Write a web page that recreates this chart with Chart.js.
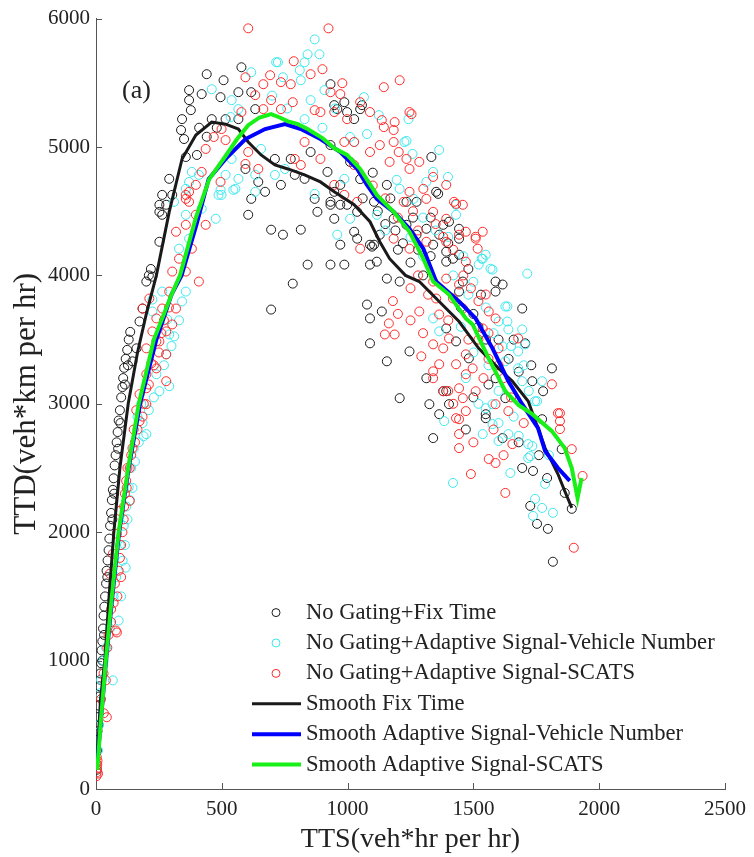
<!DOCTYPE html>
<html lang="en">
<head>
  <meta charset="UTF-8">
  <title>TTD vs TTS</title>
  <script src="https://cdn.jsdelivr.net/npm/chart.js"></script>
  <style>
    html, body { margin: 0; padding: 0; background: #fff; }
    #wrap { width: 754px; height: 857px; }
  </style>
</head>
<body>
  <div id="wrap"><canvas id="chart" width="754" height="857"></canvas></div>

  <script>
    // axis ranges / ticks
    const xTicks = [0, 500, 1000, 1500, 2000, 2500];
    const yTicks = [0, 1000, 2000, 3000, 4000, 5000, 6000];

    const seriesNames = [
      'No Gating+Fix Time',
      'No Gating+Adaptive Signal-Vehicle Number',
      'No Gating+Adaptive Signal-SCATS',
      'Smooth Fix Time',
      'Smooth Adaptive Signal-Vehicle Number',
      'Smooth Adaptive Signal-SCATS'
    ];

    // scatter: no gating + fix time (black circles), [TTS, TTD]
    const fixTimePts = [
      [3,150],[4,300],[6,450],[8,560],[10,650],[12,720],[14,800],[17,900],[20,980],[22,1080],[25,1150],[28,1250],
      [30,1350],[33,1420],[36,1500],[40,1600],[42,1700],[46,1780],[50,1860],[53,1950],[56,2050],[60,2150],[63,2250],
      [67,2330],[70,2420],[74,2520],[78,2600],[82,2700],[86,2780],[90,2870],[95,2950],[100,3050],[105,3130],[108,3200],
      [112,3280],[118,3350],[124,3420],[130,3500],[136,3560],[145,3331],[161,3432],[173,3641],[185,3742],[200,3952],
      [210,4000],[218,4050],[224,3990],[252,4262],[252,4495],[263,4472],[279,4550],[252,4550],[263,4627],[291,4752],[303,4627],
      [10,500],[18,850],[25,1000],[32,1200],[45,1650],[65,2100],[72,2300],[88,2650],[97,2850],[115,3150],[127,3300],
      [342,5217],[338,5132],[350,5062],[357,4922],[401,4938],[377,5287],[370,5365],[420,5412],[370,5443],[440,5567],
      [507,5520],[578,5621],[495,5388],[566,5427],[617,5427],[633,5295],[566,5217],[460,5217],[515,5217],[410,5150],
      [440,5080],[480,5150],
      [594,4829],[645,4728],[672,4651],[617,4596],[711,4907],[735,4705],[774,4907],[790,4783],[829,4752],[853,4961],
      [869,4596],[920,4806],[947,4651],[971,4705],[998,4550],[947,5326],[987,5349],[1050,5295],[1026,5217],[605,4472],
      [696,4356],[743,4317],[814,4356],[782,3936],[841,4084],[932,4084],[987,4084],[696,3734],[1077,3773],[1089,3665],
      [1089,3471],[880,4495],[932,4550],[1038,4495],[932,5015],[1010,4884],[932,5489],[1057,5326],[1038,4286],[1097,4224],
      [1026,4340],
      [1333,4922],[971,4239],[1089,4239],[1128,4317],[1183,4441],[1234,4573],[1274,4573],[1352,4651],[1234,4394],[1313,4363],
      [1380,4394],[1443,4363],[1364,4317],[1443,4286],[947,4441],[932,4573],[971,4550],[959,5295],[998,5272],[1360,4635],
      [1156,4705],[1105,4573],[1116,4107],[1156,3975],[1207,3952],[1616,3929],[1588,3874],[1458,3952],[1443,3874],[1392,4107],
      [1419,4130],[1403,4418],[1274,4317],[1105,4239],[1089,4084],
      [1136,3719],[1156,3331],[1207,3044],[1246,3408],[1325,2997],[1340,2733],[1313,3199],[1380,3098],[1364,2919],[1403,2997],
      [1694,3742],[1706,3471],[1812,3276],[1734,3176],[1777,3098],[1549,2919],[1616,2733],[1694,2500],[1737,2477],[1793,2422],
      [1726,2205],[1753,2065],[1796,2026],[1816,1770],[1891,2182],[1863,2306],[1773,2880],[1851,2647],
      [1340,4239],[1392,4185],[1443,4161],[1588,3952],[1392,3587],[1431,3486],[1482,3354],[1392,3098],[1549,2888],[1588,3199],
      [1627,3044],[1500,3700],[1550,3500],[1250,4100],[1200,4200],[1300,4000],[1450,3750],[1520,3600],[1640,3350],[1680,3250],
      [1560,3150],[1060,4600],[1120,4500],[1150,4400],[1190,4350],[1220,4250],[1280,4200],[1330,4150],[1170,4600],[1050,4750],
      [1100,4800],[1260,4450],[1330,4450],[1400,4250],[1480,4050],[1530,3850],[1600,3500],[1660,3500],[1730,3300],[1500,3050],
      [1470,2800],[1680,2700],[1760,2600]
    ];

    // scatter: no gating + adaptive signal, vehicle number (cyan circles)
    const vehNumPts = [
      [8,300],[12,500],[16,745],[20,850],[30,1000],[40,1100],[55,1250],[67,846],[90,1312],[106,1778],[118,1724],[70,1500],
      [80,1650],[95,1900],[110,2050],[120,2200],[130,2350],[145,2345],[140,2500],[150,2650],[189,2748],[200,2764],[165,2900],
      [180,3000],[252,3098],[291,3137],[240,3230],[279,3385],[291,3540],[311,3525],[283,3657],[224,3719],[263,3874],
      [342,3797],[357,3874],[330,4208],[370,4286],[420,4519],[476,4441],[499,4627],[546,4666],[224,3812],[310,4573],
      [357,4674],[357,4472],[409,4783],[495,4666],[370,4728],[381,4806],
      [100,1500],[115,1900],[125,2100],[135,2250],[155,2550],[170,2700],[185,2850],[210,2950],[230,3050],[270,3300],
      [300,3450],[330,3650],
      [869,5838],[841,5722],[888,5722],[723,5660],[810,5598],[617,5582],[743,5543],[814,5520],[908,5443],[853,5365],
      [539,5365],[566,5295],[535,5233],[829,5217],[1010,5078],[1026,5039],[539,4907],[656,4985],[515,4783],[566,4752],
      [487,4627],[554,4674],[633,4651],[869,4635],[987,4752],[716,5660],[829,5660],[460,5450],[633,4783],[711,4783],
      [751,4829],[700,5400],[760,5300],[900,5150],[950,5300],
      [1065,5388],[1124,5248],[1242,5217],[1077,5101],[1226,5039],[1364,4977],[1258,4946],[1340,4806],[1399,4767],[1195,4744],
      [1207,4674],[1313,4728],[1262,4596],[1431,4472],[1537,4130],[959,4317],[1010,4441],[1116,4472],[1234,5047],[1714,4014],
      [1576,4045],[1431,4550],
      [1635,3758],[1635,3641],[1694,3579],[1639,3579],[1678,3408],[1627,3331],[1678,3276],[1694,3176],[1773,3176],[1753,3020],
      [1384,2865],[1419,2384],[1647,2461],[1549,2966],[1576,2842],[1639,2764],[1718,2686],[1726,2593],[1745,2259],[1773,2189],
      [1737,2127],[1816,2151],[1600,2710],[1537,2764],[1785,2376],[1718,2578],[1734,2671],
      [1533,4130],[1568,4052],[1627,3758],[1600,3641],[1616,3447],[1706,3463],[1576,2997],[1745,3020],[1340,3665],[1364,3564],
      [1549,4161],[1521,4084],[1150,4350],[1250,4300],[1300,4150],[1420,4000],[1480,3850],[1450,3600],[1500,3400],[1470,3200],
      [1560,3300],[1520,3000],[1600,3100],
      [1300,4450],[1350,4350],[1400,4300],[1460,4150],[1500,3950],[1550,3750],[1580,3550],[1650,3450],[1700,3300],[1720,3100],
      [1660,2900],[1600,2850],[1680,2750],[1800,2600]
    ];

    // scatter: no gating + adaptive signal, SCATS (red circles)
    const scatsPts = [
      [2,100],[3,130],[4,160],[5,190],[6,220],[3,250],[8,120],[2,200],
      [31,590],[39,846],[43,559],[79,1234],[83,1219],[55,1677],[67,1832],[83,1988],[94,2166],[134,2244],[122,2345],[134,2500],
      [145,2655],[173,2865],[200,2997],[173,3075],[200,3230],[220,3315],[200,3432],[240,3486],[20,700],[30,900],[45,1100],
      [60,1300],[70,1450],[75,1600],[100,1900],[110,2100],[115,2300],[125,2500],[150,2800],[160,2950],[185,3742],[200,3121],
      [240,3276],[279,3176],[279,3385],[252,3486],[224,3564],[279,3564],[240,3665],[263,3742],[212,3820],[303,3618],[318,3742],
      [291,3874],[303,4030],[357,4030],[409,3952],[330,4130],[381,4208],[318,4340],[357,4394],[436,4394],[397,4472],[370,4573],
      [357,4627],
      [90,1700],[95,1800],[105,2000],[112,2200],[120,2400],[140,2600],[155,2700],[165,2800],[185,2900],[190,3000],[210,3150],
      [230,3300],[250,3400],[260,3550],[270,3650],[290,3750],[50,1200],[60,1400],[85,1500],[100,1650],
      [605,5924],[924,5924],[786,5668],[853,5567],[900,5606],[692,5559],[594,5543],[735,5505],[665,5489],[774,5489],[979,5497],
      [932,5427],[971,5412],[696,5365],[633,5404],[782,5349],[869,5287],[892,5272],[947,5272],[998,5217],[1050,5349],[665,5295],
      [735,5295],[578,5272],[499,5140],[468,5078],[515,5054],[605,4961],[645,4829],[594,4868],[436,4985],[420,4806],[495,4728],
      [397,4705],[357,4596],[370,4651],[829,5039],[790,4907],[814,4860],[892,4907],[987,5039],[1026,4860],[947,4705],[987,4627],
      [1038,4573],
      [1144,5466],[1207,5520],[1254,5256],[1187,5194],[1183,5132],[1136,5209],[1089,5272],[1144,5155],[1026,5039],[1089,4961],
      [1128,5015],[1167,4884],[1203,4961],[1234,4907],[1285,4884],[1183,5039],[1246,4829],[1340,4767],[1392,4705],[1301,4674],
      [1246,4651],[1223,4573],[1431,4557],[1458,4550],[1313,4596],[1340,4495],[1392,4441],[1470,4340],[1537,4340],[1509,4286],
      [1443,4317],[1392,4262],[1313,4262],[1246,4208],[1183,4286],[1050,4208],[1246,5272],[1517,4208],[1423,4573],
      [1164,3626],[1148,3540],[1187,3540],[1293,3370],[1340,3253],[1380,3098],[1443,2880],[1443,2764],[1443,2655],[1561,2570],
      [1588,2539],[1490,2453],[1627,2306],[1844,2927],[1844,2865],[1844,2803],[1891,2647],[1934,2438],[1899,1879],[1655,2686],
      [1639,2943],[1537,3587],[1470,3230],[1509,3098],[1588,2997],[1285,3719],[1340,3463],[1403,3509],[1431,3308],[1497,3276],
      [1470,3385],
      [1509,4301],[1470,4107],[1549,3851],[1561,3719],[1588,3665],[1600,3432],[1678,3509],[1812,3152],[1836,2927],[1443,3121],
      [1458,3044],[1470,2943],[1431,2888],[1364,3308],[1340,3199],[1380,3432],[1419,3820],[1458,3742],[1392,3975],[1443,3929],
      [1340,3952],[1352,3820],[1364,3696],[1280,4000],[1320,3850],[1250,3900],[1400,3650],[1480,3500],[1560,3350],[1540,3200],
      [1100,4700],[1150,4600],[1200,4450],[1260,4500],[1280,4350],[1350,4400],[1380,4300],[1420,4200],[1460,4000],[1490,3900],
      [1520,3800],[1520,3500],[1560,3550],[1600,3300],[1620,3200],[1650,3050],[1700,2850],[1580,2800],[1500,2700],[1620,2600],
      [1400,3100],[1420,3000],[1300,3550],[1250,3650],[1180,3800],[1200,3700]
    ];

    // smoothed curves
    const smoothFix = [
      [5,250],[18,700],[35,1000],[52,1500],[71,2000],[95,2500],[128,3000],[165,3400],[200,3700],[240,4000],[291,4495],
      [342,4907],[397,5093],[460,5194],[515,5178],[566,5140],[605,5039],[656,4938],[711,4860],[763,4829],[829,4783],
      [892,4728],[947,4651],[1026,4550],[1089,4418],[1128,4262],[1167,4130],[1230,4000],[1285,3952],[1364,3797],[1443,3641],
      [1521,3432],[1600,3276],[1655,3176],[1718,3020],[1785,2655],[1836,2453],[1863,2321],[1891,2189]
    ];
    const smoothVehNum = [
      [5,200],[20,550],[40,1000],[65,1500],[92,2000],[130,2500],[175,3000],[240,3500],[300,3850],[340,4000],[400,4400],
      [448,4752],[515,4907],[594,5062],[672,5140],[751,5178],[814,5140],[892,5062],[971,4961],[1038,4829],[1077,4705],
      [1116,4596],[1183,4495],[1246,4363],[1301,4208],[1352,3952],[1443,3797],[1509,3665],[1576,3432],[1639,3176],
      [1694,2997],[1757,2811],[1785,2632],[1836,2500],[1883,2399]
    ];
    const smoothScats = [
      [5,150],[20,550],[39,1000],[63,1500],[90,2000],[128,2500],[170,3000],[230,3500],[300,3850],[334,4000],[397,4450],
      [450,4750],[515,4930],[560,5060],[605,5170],[650,5230],[696,5256],[730,5230],[763,5200],[800,5180],[841,5140],
      [900,5070],[947,4990],[998,4938],[1050,4829],[1116,4627],[1183,4495],[1246,4340],[1301,4130],[1340,3952],[1403,3851],
      [1470,3665],[1497,3618],[1530,3480],[1561,3354],[1627,3098],[1680,2990],[1734,2919],[1812,2787],[1863,2655],
      [1891,2500],[1914,2267],[1930,2422]
    ];

    const toXY = arr => arr.map(p => ({ x: p[0], y: p[1] }));
    const serif = '"Liberation Serif", "Times New Roman", serif';

    const colBlack = '#1a1a1a';
    const colCyan = '#3ee8ee';
    const colRed = '#ff2a2a';
    const colBlue = '#0000ff';
    const colGreen = '#18f018';

    // inward tick marks, the "(a)" tag and the legend box
    const decorPlugin = {
      id: 'decor',
      afterDraw(chart) {
        const ctx = chart.ctx;
        const xs = chart.scales.x, ys = chart.scales.y;
        const area = chart.chartArea;
        ctx.save();
        ctx.strokeStyle = '#555';
        ctx.lineWidth = 1;
        xTicks.forEach(v => {
          const px = Math.round(xs.getPixelForValue(v)) + 0.5;
          ctx.beginPath(); ctx.moveTo(px, area.bottom); ctx.lineTo(px, area.bottom - 6); ctx.stroke();
        });
        yTicks.forEach(v => {
          const py = Math.round(ys.getPixelForValue(v)) + 0.5;
          ctx.beginPath(); ctx.moveTo(area.left, py); ctx.lineTo(area.left + 6, py); ctx.stroke();
        });

        ctx.fillStyle = '#222';
        ctx.font = '26px ' + serif;
        ctx.textBaseline = 'middle';
        ctx.textAlign = 'left';
        ctx.fillText('(a)', area.left + 26, area.top + 73);

        // legend
        const styles = [
          { kind: 'dot', color: colBlack },
          { kind: 'dot', color: colCyan },
          { kind: 'dot', color: colRed },
          { kind: 'line', color: colBlack, w: 3 },
          { kind: 'line', color: colBlue, w: 4 },
          { kind: 'line', color: colGreen, w: 4 }
        ];
        ctx.font = '22.6px ' + serif;
        seriesNames.forEach((name, i) => {
          const y = area.top + 594 + i * 30.4;
          const st = styles[i];
          if (st.kind === 'dot') {
            ctx.strokeStyle = st.color; ctx.lineWidth = 1;
            ctx.beginPath(); ctx.arc(area.left + 180, y, 4, 0, Math.PI * 2); ctx.stroke();
          } else {
            ctx.strokeStyle = st.color; ctx.lineWidth = st.w;
            ctx.beginPath(); ctx.moveTo(area.left + 156, y); ctx.lineTo(area.left + 205, y); ctx.stroke();
          }
          ctx.fillStyle = '#222';
          ctx.fillText(name, area.left + 210, y);
        });
        ctx.restore();
      }
    };

    const scatterSet = (label, pts, color, order) => ({
      label, data: toXY(pts), order,
      showLine: false,
      pointStyle: 'circle', pointRadius: 4.5, pointHoverRadius: 4.5,
      pointBackgroundColor: 'rgba(0,0,0,0)', pointBorderColor: color, pointBorderWidth: 1
    });
    const lineSet = (label, pts, color, width, order) => ({
      label, data: toXY(pts), order,
      showLine: true, borderColor: color, borderWidth: width, tension: 0,
      pointRadius: 0, fill: false
    });

    const ctx = document.getElementById('chart').getContext('2d');
    new Chart(ctx, {
      type: 'scatter',
      data: {
        datasets: [
          scatterSet(seriesNames[0], fixTimePts, colBlack, 6),
          scatterSet(seriesNames[1], vehNumPts, colCyan, 5),
          scatterSet(seriesNames[2], scatsPts, colRed, 4),
          lineSet(seriesNames[3], smoothFix, colBlack, 3, 3),
          lineSet(seriesNames[4], smoothVehNum, colBlue, 4, 2),
          lineSet(seriesNames[5], smoothScats, colGreen, 4, 1)
        ]
      },
      options: {
        responsive: false,
        animation: false,
        layout: { padding: { top: 16, right: 22, left: 0, bottom: 0 } },
        plugins: { legend: { display: false }, tooltip: { enabled: false } },
        scales: {
          x: {
            type: 'linear', min: 0, max: 2500,
            afterFit: s => { s.height = 68; },
            afterBuildTicks: s => { s.ticks = xTicks.map(v => ({ value: v })); },
            grid: { display: false, drawTicks: false },
            border: { display: true, color: '#555', width: 1 },
            ticks: { padding: 8, color: '#222', font: { family: serif, size: 21 }, maxRotation: 0,
                     callback: v => String(v) },
            title: { display: true, text: 'TTS(veh*hr per hr)', color: '#222',
                     font: { family: serif, size: 28 }, padding: { top: 0, bottom: 1 } }
          },
          y: {
            type: 'linear', min: 0, max: 6000,
            afterFit: s => { s.width = 96; },
            afterBuildTicks: s => { s.ticks = yTicks.map(v => ({ value: v })); },
            grid: { display: false, drawTicks: false },
            border: { display: true, color: '#555', width: 1 },
            ticks: { padding: 6, color: '#222', font: { family: serif, size: 21 },
                     callback: v => String(v) },
            title: { display: true, text: 'TTD(veh*km per hr)', color: '#222',
                     font: { family: serif, size: 31 }, padding: { top: 8, bottom: 0 } }
          }
        }
      },
      plugins: [decorPlugin]
    });
  </script>
</body>
</html>
